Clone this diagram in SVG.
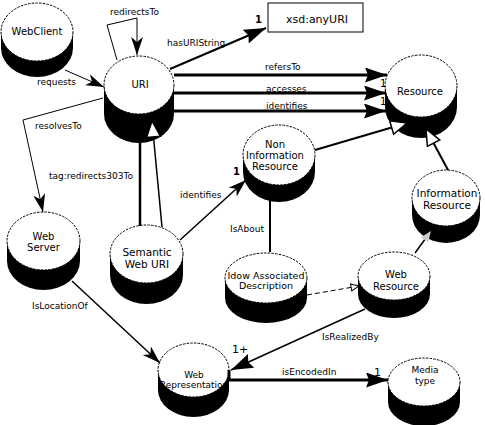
<svg xmlns="http://www.w3.org/2000/svg" width="485" height="425" viewBox="0 0 485 425">
<style>
text{font-family:"DejaVu Sans","Liberation Sans",sans-serif;fill:#000}
.nl{font-size:10px;text-anchor:middle}
.el{font-size:9px}
.card{font-size:10px;font-weight:bold}
.sh{fill:#000}
.top{fill:#fff;stroke:#000;stroke-width:1;stroke-dasharray:2.5,1.2}
.c{fill:none;stroke:#000}
</style>
<defs>
<marker id="big" markerUnits="userSpaceOnUse" markerWidth="23" markerHeight="16" refX="22" refY="7.5" orient="auto"><path d="M0,0 L22,7.5 L0,15 L3,7.5 Z" fill="#000"/></marker>
<marker id="mid" markerUnits="userSpaceOnUse" markerWidth="19" markerHeight="13" refX="18" refY="6" orient="auto"><path d="M0,0 L18,6 L0,12 L5,6 Z" fill="#000"/></marker>
<marker id="gen" markerUnits="userSpaceOnUse" markerWidth="20" markerHeight="18" refX="17" refY="8" orient="auto"><path d="M1,1 L17,8 L1,15 Z" fill="#fff" stroke="#000" stroke-width="1.5"/></marker>
<marker id="sm" markerUnits="userSpaceOnUse" markerWidth="10" markerHeight="10" refX="9" refY="4.5" orient="auto"><path d="M1,1 L9,4.5 L1,8 Z" fill="#fff" stroke="#000" stroke-width="1"/></marker>
<marker id="gray" markerUnits="userSpaceOnUse" markerWidth="12" markerHeight="11" refX="11" refY="5" orient="auto"><path d="M0,0.5 L11,5 L0,9.5 Z" fill="#ccc"/></marker>
</defs>

<g id="nodes">
<g id="webclient"><path class="sh" d="M1,32 L1,48 A36,29 0 0 0 73,48 L73,32 Z"/><ellipse class="top" cx="37" cy="32" rx="36" ry="29"/><text class="nl" x="37" y="35">WebClient</text></g>
<g id="uri"><path class="sh" d="M104,85 L104,114 A35,29 0 0 0 174,114 L174,85 Z"/><ellipse class="top" cx="139" cy="85" rx="35" ry="29"/><text class="nl" x="140" y="88">URI</text></g>
<g id="xsd"><rect x="268" y="3" width="95" height="29" fill="#fff" stroke="#000" stroke-width="1"/><text x="317" y="23" style="font-size:11px;text-anchor:middle">xsd:anyURI</text></g>
<g id="resource"><path class="sh" d="M385,86 L385,107 A36,31 0 0 0 457,107 L457,86 Z"/><ellipse class="top" cx="421" cy="86" rx="36" ry="31"/><text class="nl" x="420" y="95">Resource</text></g>
<g id="noninfo"><path class="sh" d="M243,155 L243,172 A36,30 0 0 0 315,172 L315,155 Z"/><ellipse class="top" cx="279" cy="155" rx="36" ry="30"/><text class="nl" x="275" y="148">Non</text><text class="nl" x="275" y="159">Information</text><text class="nl" x="275" y="170">Resource</text></g>
<g id="infores"><path class="sh" d="M412,198 L412,215 A34,28 0 0 0 480,215 L480,198 Z"/><ellipse class="top" cx="446" cy="198" rx="34" ry="28"/><text class="nl" x="447" y="197" style="font-size:10.5px">Information</text><text class="nl" x="447" y="209" style="font-size:10.5px">Resource</text></g>
<g id="webserver"><path class="sh" d="M7,241 L7,261 A36.5,29 0 0 0 80,261 L80,241 Z"/><ellipse class="top" cx="43.5" cy="241" rx="36.5" ry="29"/><text class="nl" x="43.5" y="240">Web</text><text class="nl" x="43.5" y="251">Server</text></g>
<g id="semweburi"><path class="sh" d="M110,254 L110,275 A36.5,29 0 0 0 183,275 L183,254 Z"/><ellipse class="top" cx="146.5" cy="254" rx="36.5" ry="29"/><text class="nl" x="147" y="256" style="font-size:10.5px">Semantic</text><text class="nl" x="147" y="268" style="font-size:10.5px">Web URI</text></g>
<g id="idow"><path class="sh" d="M225,278 L225,298 A41,25 0 0 0 307,298 L307,278 Z"/><ellipse class="top" cx="266" cy="278" rx="41" ry="25"/><text class="nl" x="266" y="279" style="font-size:9.5px">Idow Associated</text><text class="nl" x="266" y="289" style="font-size:9.5px">Description</text></g>
<g id="webresource"><path class="sh" d="M358,276 L358,294 A36,24 0 0 0 430,294 L430,276 Z"/><ellipse class="top" cx="394" cy="276" rx="36" ry="24"/><text class="nl" x="396" y="278">Web</text><text class="nl" x="396" y="290">Resource</text></g>
<g id="webrep"><path class="sh" d="M158,370 L158,390 A35.5,27 0 0 0 229,390 L229,370 Z"/><ellipse class="top" cx="193.5" cy="370" rx="35.5" ry="27"/><text class="nl" x="194" y="378" style="font-size:9px">Web</text><text class="nl" x="194" y="388" style="font-size:9px">Representation</text></g>
<g id="mediatype"><path class="sh" d="M388,382 L388,402 A36,24 0 0 0 460,402 L460,382 Z"/><ellipse class="top" cx="424" cy="382" rx="36" ry="24"/><text class="nl" x="425" y="373" style="font-size:9px">Media</text><text class="nl" x="425" y="384" style="font-size:9px">type</text></g>
</g>

<g id="connectors">
<path class="c" stroke-width="1" d="M65,70 L104,87" marker-end="url(#mid)"/>
<path class="c" stroke-width="1" d="M117,60 L107,25 L137,18 L137,55" marker-end="url(#mid)"/>
<path class="c" stroke-width="2" d="M170,69 L266,28" marker-end="url(#big)"/>
<path class="c" stroke-width="3" d="M174,75 L387,75" marker-end="url(#big)"/>
<path class="c" stroke-width="3" d="M174,93 L386,93" marker-end="url(#big)"/>
<path class="c" stroke-width="3" d="M174,111 L386,111" marker-end="url(#big)"/>
<path class="c" stroke-width="1" d="M103,98 L23,120 L43,212" marker-end="url(#mid)"/>
<path class="c" stroke-width="2.5" d="M140,226 L140,143"/>
<path class="c" stroke-width="1.5" d="M162,227 L152,121" marker-end="url(#gen)"/>
<path class="c" stroke-width="1.5" d="M180,240 L246,180" marker-end="url(#mid)"/>
<path class="c" stroke-width="2" d="M315,150 L407,123" marker-end="url(#gen)"/>
<path class="c" stroke-width="2" d="M448,170 L426,129" marker-end="url(#gen)"/>
<path class="c" stroke-width="2" d="M270,252 L270,200"/>
<path class="c" stroke-width="1" stroke-dasharray="5,3" d="M307,295 L359,286" marker-end="url(#sm)"/>
<path class="c" stroke-width="1.5" d="M415,253 L431,231" marker-end="url(#gray)"/>
<path class="c" stroke-width="1.5" d="M365,309 L231,370" marker-end="url(#big)"/>
<path class="c" stroke-width="1.5" d="M72,281 L160,363" marker-end="url(#mid)"/>
<path class="c" stroke-width="3" d="M229,370 L229,380 L388,380" marker-end="url(#big)"/>
</g>

<g id="labels">
<text class="el" x="110" y="15">redirectsTo</text>
<text class="el" x="167" y="46">hasURIString</text>
<text class="card" x="255" y="23">1</text>
<text class="el" x="37" y="85">requests</text>
<text class="el" x="35" y="129">resolvesTo</text>
<text class="el" x="265" y="70">refersTo</text>
<text class="el" x="266" y="92">accesses</text>
<text class="el" x="266" y="109">identifies</text>
<text x="380" y="87" style="font-size:10px">1</text>
<text x="380" y="105" style="font-size:10px">1</text>
<text class="el" x="49" y="179">tag:redirects303To</text>
<text class="el" x="180" y="198">identifies</text>
<text class="card" x="233" y="175">1</text>
<text class="el" x="230" y="232">IsAbout</text>
<text class="el" x="322" y="340">IsRealizedBy</text>
<text x="232" y="353" style="font-size:11px">1+</text>
<text class="el" x="282" y="375">isEncodedIn</text>
<text x="374" y="376" style="font-size:11px">1</text>
<text class="el" x="32" y="309">IsLocationOf</text>
</g>
</svg>
